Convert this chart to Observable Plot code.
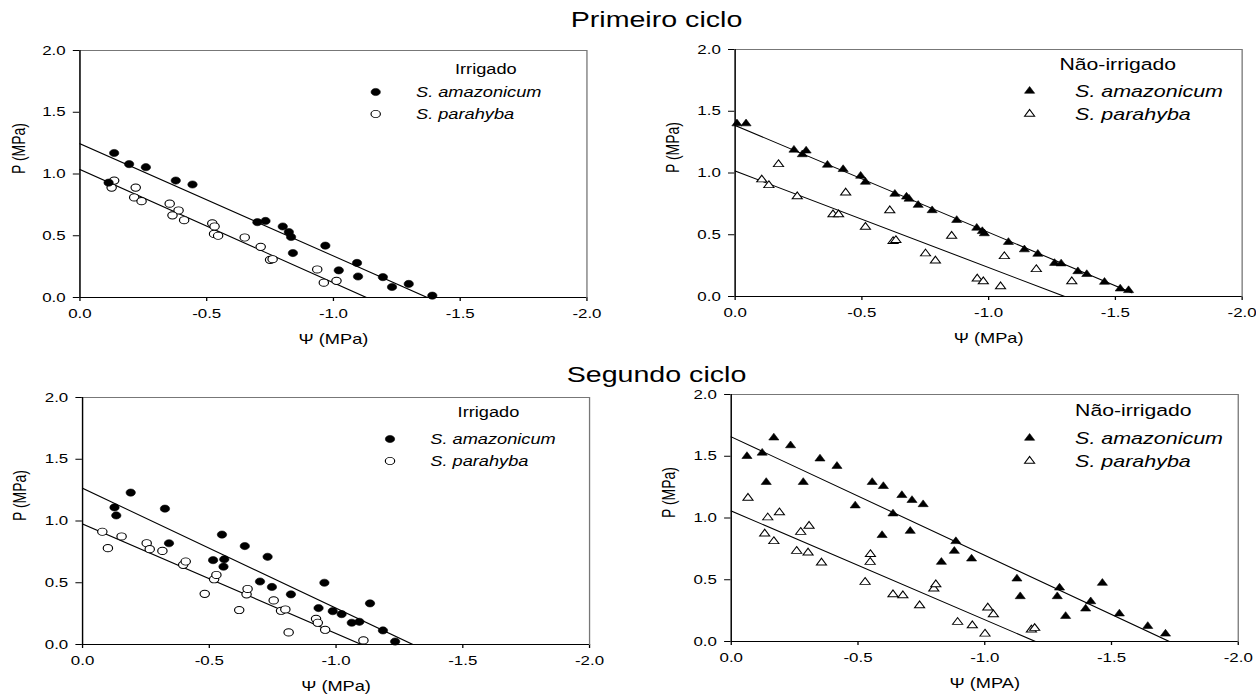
<!DOCTYPE html>
<html><head><meta charset="utf-8">
<script src="https://cdn.jsdelivr.net/npm/d3@7"></script>
<script src="https://cdn.jsdelivr.net/npm/@observablehq/plot@0.6"></script>
<style>
html,body{margin:0;padding:0;background:#fff;overflow:hidden;}
#fig{position:relative;width:966px;height:697px;transform:scaleX(1.3);transform-origin:0 0;font-family:"Liberation Sans",Arial,sans-serif;color:#000;}
.title{position:absolute;left:0;width:1010px;text-align:center;font-size:22px;line-height:26px;}
.panel{position:absolute;}
.lg{position:absolute;font-size:14px;line-height:18px;white-space:nowrap;}
.lg i{font-style:italic;}
.sym{position:absolute;}
</style></head>
<body><div id="fig"></div>
<script>
// ---------- data (Ψ in MPa, P in MPa) ----------
const xTicks = [0, -0.5, -1.0, -1.5, -2.0];
const yTicks = [0, 0.5, 1.0, 1.5, 2.0];
const species = ["S. amazonicum", "S. parahyba"];
const cycleTitles = ["Primeiro ciclo", "Segundo ciclo"];
const treatments = ["Irrigado", "Não-irrigado"];

// Primeiro ciclo - Irrigado
const c1IrrAmz = [[-0.113,0.93],[-0.135,1.17],[-0.194,1.08],[-0.26,1.055],[-0.378,0.947],[-0.444,0.915],[-0.70,0.61],[-0.732,0.62],[-0.80,0.575],[-0.824,0.53],[-0.833,0.49],[-0.84,0.36],[-0.968,0.42],[-1.021,0.22],[-1.093,0.28],[-1.097,0.17],[-1.195,0.165],[-1.231,0.085],[-1.297,0.11],[-1.39,0.015]];
const c1IrrPar = [[-0.135,0.947],[-0.125,0.89],[-0.22,0.89],[-0.214,0.81],[-0.243,0.78],[-0.354,0.76],[-0.389,0.705],[-0.365,0.665],[-0.411,0.626],[-0.522,0.60],[-0.531,0.575],[-0.529,0.515],[-0.545,0.50],[-0.65,0.486],[-0.713,0.41],[-0.75,0.305],[-0.76,0.31],[-0.936,0.227],[-0.962,0.12],[-1.012,0.135]];
const c1IrrFitAmz = [[0,1.245],[-1.37,0]];
const c1IrrFitPar = [[0,1.036],[-1.13,0]];

// Primeiro ciclo - Não-irrigado
const c1NiAmz = [[-0.007,1.40],[-0.043,1.40],[-0.232,1.187],[-0.265,1.15],[-0.28,1.18],[-0.364,1.065],[-0.426,1.03],[-0.495,0.976],[-0.514,0.927],[-0.63,0.83],[-0.676,0.807],[-0.686,0.79],[-0.722,0.74],[-0.777,0.697],[-0.874,0.618],[-0.953,0.555],[-0.975,0.528],[-0.983,0.51],[-1.078,0.44],[-1.141,0.38],[-1.194,0.344],[-1.26,0.27],[-1.286,0.266],[-1.352,0.203],[-1.387,0.18],[-1.457,0.117],[-1.519,0.063],[-1.552,0.05]];
const c1NiPar = [[-0.171,1.07],[-0.105,0.946],[-0.133,0.90],[-0.245,0.81],[-0.436,0.84],[-0.386,0.664],[-0.408,0.664],[-0.514,0.563],[-0.61,0.697],[-0.623,0.447],[-0.634,0.455],[-0.751,0.347],[-0.79,0.29],[-0.854,0.49],[-0.955,0.144],[-0.979,0.122],[-1.047,0.081],[-1.062,0.325],[-1.188,0.22],[-1.328,0.122]];
const c1NiFitAmz = [[0,1.385],[-1.565,0.03]];
const c1NiFitPar = [[0,1.016],[-1.30,0]];

// Segundo ciclo - Irrigado
const c2IrrAmz = [[-0.19,1.23],[-0.126,1.11],[-0.133,1.045],[-0.325,1.10],[-0.341,0.82],[-0.55,0.89],[-0.515,0.683],[-0.559,0.69],[-0.556,0.63],[-0.64,0.797],[-0.73,0.71],[-0.70,0.51],[-0.747,0.466],[-0.822,0.406],[-0.954,0.50],[-0.931,0.295],[-0.987,0.27],[-1.022,0.246],[-1.062,0.176],[-1.092,0.184],[-1.134,0.333],[-1.185,0.114],[-1.233,0.024]];
const c2IrrPar = [[-0.078,0.913],[-0.10,0.78],[-0.154,0.875],[-0.253,0.82],[-0.265,0.772],[-0.315,0.758],[-0.397,0.645],[-0.407,0.672],[-0.482,0.41],[-0.519,0.528],[-0.528,0.563],[-0.618,0.279],[-0.647,0.406],[-0.651,0.45],[-0.754,0.357],[-0.783,0.273],[-0.80,0.284],[-0.813,0.098],[-0.921,0.208],[-0.928,0.176],[-0.957,0.119],[-1.108,0.033]];
const c2IrrFitAmz = [[0,1.265],[-1.303,0]];
const c2IrrFitPar = [[0,0.976],[-1.10,0]];

// Segundo ciclo - Não-irrigado
const c2NiAmz = [[-0.062,1.50],[-0.122,1.527],[-0.168,1.65],[-0.234,1.587],[-0.138,1.29],[-0.284,1.29],[-0.35,1.48],[-0.417,1.42],[-0.489,1.10],[-0.556,1.29],[-0.60,1.257],[-0.638,1.035],[-0.595,0.86],[-0.673,1.184],[-0.713,1.144],[-0.757,1.11],[-0.706,0.894],[-0.829,0.643],[-0.886,0.811],[-0.88,0.732],[-0.948,0.67],[-1.127,0.508],[-1.14,0.365],[-1.295,0.435],[-1.286,0.365],[-1.319,0.205],[-1.418,0.324],[-1.398,0.265],[-1.464,0.473],[-1.531,0.225],[-1.643,0.124],[-1.713,0.062]];
const c2NiPar = [[-0.066,1.162],[-0.144,1.003],[-0.19,1.044],[-0.132,0.873],[-0.168,0.811],[-0.274,0.886],[-0.307,0.935],[-0.258,0.732],[-0.303,0.719],[-0.356,0.638],[-0.549,0.706],[-0.548,0.643],[-0.528,0.481],[-0.638,0.381],[-0.677,0.373],[-0.743,0.292],[-0.799,0.427],[-0.807,0.462],[-0.893,0.157],[-0.951,0.13],[-1.001,0.062],[-1.012,0.273],[-1.034,0.219],[-1.184,0.095],[-1.197,0.108]];
const c2NiFitAmz = [[0,1.657],[-1.728,0]];
const c2NiFitPar = [[0,1.057],[-1.20,0]];

// ---------- drawing ----------
const fig = document.getElementById("fig");
const FONT = "'Liberation Sans', Arial, sans-serif";

function symR(symbol){ return symbol === "circle" ? 3.6 : 2.9; }

function makePanel(o) {
  const r = symR(o.symbol);
  const svg = Plot.plot({
    width: 461, height: 307,
    marginLeft: 61, marginRight: 10, marginTop: 10, marginBottom: 50,
    style: {fontFamily: FONT, fontSize: "13px", color: "#000", background: "transparent", overflow: "visible"},
    x: {domain: [0, -2], ticks: xTicks, tickFormat: d => d.toFixed(1), tickSize: 4, tickPadding: 7, label: null},
    y: {domain: [0, 2], ticks: yTicks, tickFormat: d => d.toFixed(1), tickSize: 5, tickPadding: 6, label: null},
    marks: [
      Plot.frame({stroke: "#777"}),
      Plot.ruleX([0], {stroke: "#000"}),
      Plot.ruleY([0], {stroke: "#000"}),
      Plot.line(o.fitAmz, {x: d => d[0], y: d => d[1], stroke: "#000", strokeWidth: 1}),
      Plot.line(o.fitPar, {x: d => d[0], y: d => d[1], stroke: "#000", strokeWidth: 1}),
      Plot.dot(o.par, {x: d => d[0], y: d => d[1], symbol: o.symbol, r: r, fill: "#fff", stroke: "#000", strokeWidth: 0.9}),
      Plot.dot(o.amz, {x: d => d[0], y: d => d[1], symbol: o.symbol, r: r, fill: "#000", stroke: "#000", strokeWidth: 0.5}),
      Plot.text(["P (MPa)"], {frameAnchor: "left", dx: o.yLabelDx, rotate: -90, fontSize: 14, fill: "#000"}),
      Plot.text([o.xLabel], {frameAnchor: "bottom", dy: 46, fontSize: 14, fill: "#000"})
    ]
  });
  const div = document.createElement("div");
  div.className = "panel";
  div.style.left = o.left + "px";
  div.style.top = o.top + "px";
  div.appendChild(svg);
  fig.appendChild(div);
}

function symbolSvg(symbol, filled) {
  const r = symR(symbol);
  const size = 16;
  const type = symbol === "circle" ? d3.symbolCircle : d3.symbolTriangle;
  const path = d3.symbol(type, r * r * Math.PI)();
  return `<svg width="${size}" height="${size}" viewBox="${-size/2} ${-size/2} ${size} ${size}"><path d="${path}" fill="${filled ? "#000" : "#fff"}" stroke="#000" stroke-width="${filled ? 0.5 : 0.9}"/></svg>`;
}

function makeLegend(o) {
  const t = document.createElement("div");
  t.className = "lg";
  t.style.left = o.titleX + "px"; t.style.top = (o.titleY - 9) + "px";
  t.style.fontSize = o.titleSize + "px";
  t.textContent = o.title;
  fig.appendChild(t);
  species.forEach((s, i) => {
    const y = o.rowY[i];
    const m = document.createElement("div");
    m.className = "sym";
    m.style.left = (o.symX - 8) + "px"; m.style.top = (y - 8) + "px";
    m.innerHTML = symbolSvg(o.symbol, i === 0);
    fig.appendChild(m);
    const l = document.createElement("div");
    l.className = "lg";
    l.style.left = o.textX + "px"; l.style.top = (y - 9) + "px";
    l.style.fontSize = o.textSize + "px";
    l.innerHTML = `<i>${s}</i>`;
    fig.appendChild(l);
  });
}

function makeTitle(text, top) {
  const d = document.createElement("div");
  d.className = "title";
  d.style.top = top + "px";
  d.textContent = text;
  fig.appendChild(d);
}

makeTitle(cycleTitles[0], 7);
makeTitle(cycleTitles[1], 362);

makePanel({left: 0, top: 40, amz: c1IrrAmz, par: c1IrrPar, fitAmz: c1IrrFitAmz, fitPar: c1IrrFitPar, symbol: "circle", xLabel: "Ψ (MPa)", yLabelDx: -47});
makePanel({left: 503.6, top: 39, amz: c1NiAmz, par: c1NiPar, fitAmz: c1NiFitAmz, fitPar: c1NiFitPar, symbol: "triangle", xLabel: "Ψ (MPa)", yLabelDx: -48});
makePanel({left: 2.1, top: 387, amz: c2IrrAmz, par: c2IrrPar, fitAmz: c2IrrFitAmz, fitPar: c2IrrFitPar, symbol: "circle", xLabel: "Ψ (MPa)", yLabelDx: -48});
makePanel({left: 501.3, top: 384, amz: c2NiAmz, par: c2NiPar, fitAmz: c2NiFitAmz, fitPar: c2NiFitPar, symbol: "triangle", xLabel: "Ψ (MPA)", yLabelDx: -48});

makeLegend({title: treatments[0], titleX: 350, titleY: 69, titleSize: 14, symX: 289, rowY: [92, 114], textX: 320, textSize: 14, symbol: "circle"});
makeLegend({title: treatments[1], titleX: 815, titleY: 64, titleSize: 16.3, symX: 792, rowY: [91, 114], textX: 827, textSize: 16.5, symbol: "triangle"});
makeLegend({title: treatments[0], titleX: 352, titleY: 412, titleSize: 14, symX: 300, rowY: [439, 461], textX: 331, textSize: 14, symbol: "circle"});
makeLegend({title: treatments[1], titleX: 827, titleY: 410, titleSize: 16.3, symX: 792, rowY: [438, 461], textX: 827, textSize: 16.5, symbol: "triangle"});
</script>
</body></html>
